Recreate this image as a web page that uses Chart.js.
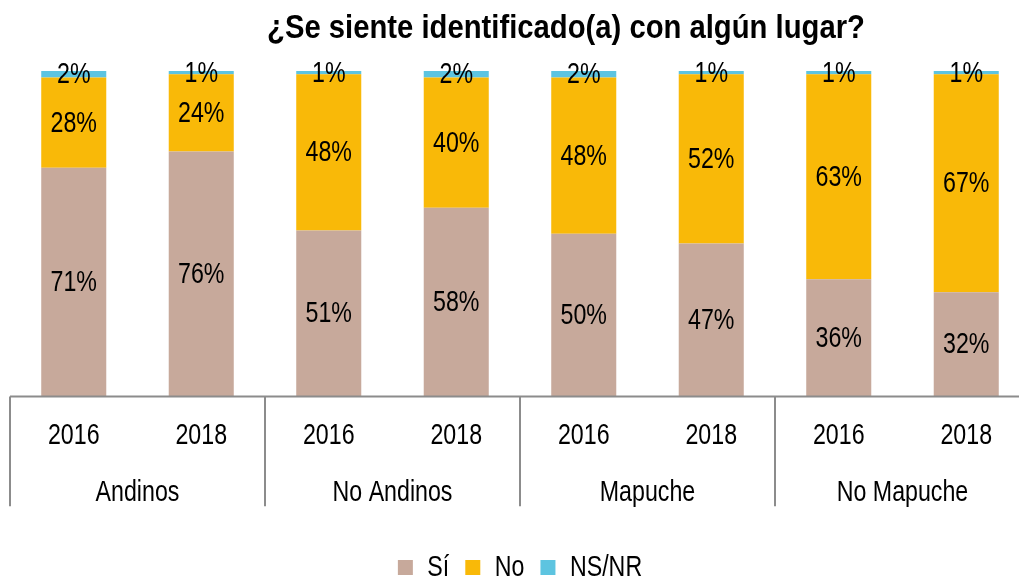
<!DOCTYPE html>
<html>
<head>
<meta charset="utf-8">
<script src="https://cdn.jsdelivr.net/npm/chart.js@4/dist/chart.umd.min.js"></script>
<style>
  html, body { margin: 0; padding: 0; background: #fff; overflow: hidden; }
  #wrap { position: relative; width: 1019px; height: 579px; overflow: hidden; }
  #grafico { position: absolute; left: 0; top: 0; }
  #titulo {
    position: absolute; top: 7px; left: 566px; transform: translateX(-50%) scaleX(0.886);
    white-space: nowrap; font-family: 'Liberation Sans', Arial, sans-serif;
    font-weight: bold; font-size: 33px; color: #000; line-height: 40px; z-index: 2;
  }
</style>
</head>
<body>
<div id="wrap">
  <div id="titulo">¿Se siente identificado(a) con algún lugar?</div>
  <canvas id="grafico" width="1030" height="592"></canvas>
</div>
<script>
// datos
const anios = ['2016', '2018', '2016', '2018', '2016', '2018', '2016', '2018'];
const grupos = ['Andinos', 'No Andinos', 'Mapuche', 'No Mapuche'];
const si   = [71, 76, 51, 58, 50, 47, 36, 32];
const no   = [28, 24, 48, 40, 48, 52, 63, 67];
const nsnr = [2, 1, 1, 2, 2, 1, 1, 1];

const FUENTE = "'Liberation Sans', Arial, sans-serif";
const ESTRECHO = 0.8; // simula Arial Narrow (no hay fuente estrecha instalada)

// 100% apilado: cada barra se normaliza a su total
const totales = si.map((v, i) => v + no[i] + nsnr[i]);
const pct = arr => arr.map((v, i) => v / totales[i] * 100);

// texto comprimido horizontalmente en todo el canvas
const estrecho = {
  id: 'estrecho',
  beforeInit(chart) {
    const ctx = chart.ctx;
    const fill = ctx.fillText.bind(ctx);
    const measure = ctx.measureText.bind(ctx);
    ctx.fillText = function (t, x, y, w) {
      ctx.save();
      ctx.translate(x, y);
      ctx.scale(ESTRECHO, 1);
      fill(t, 0, 0, w);
      ctx.restore();
    };
    ctx.measureText = function (t) {
      const m = measure(t);
      return { width: m.width * ESTRECHO,
               actualBoundingBoxAscent: m.actualBoundingBoxAscent,
               actualBoundingBoxDescent: m.actualBoundingBoxDescent };
    };
  }
};

// etiquetas de porcentaje en el centro de cada segmento
const etiquetas = {
  id: 'etiquetas',
  afterDatasetsDraw(chart) {
    const ctx = chart.ctx;
    ctx.save();
    ctx.font = '29px ' + FUENTE;
    ctx.fillStyle = '#000';
    ctx.textAlign = 'center';
    ctx.textBaseline = 'middle';
    chart.data.datasets.forEach((ds, di) => {
      chart.getDatasetMeta(di).data.forEach((bar, i) => {
        const p = bar.getProps(['x', 'y', 'base'], true);
        ctx.fillText(ds.valores[i] + '%', p.x, (p.y + p.base) / 2 + 1);
      });
    });
    ctx.restore();
  }
};

// línea base y separadores de grupos
const separadores = {
  id: 'separadores',
  afterDraw(chart) {
    const ctx = chart.ctx;
    const x = chart.scales.x;
    const x2 = chart.scales.x2;
    const y0 = chart.chartArea.bottom;
    ctx.save();
    ctx.strokeStyle = '#8c8c8c';
    ctx.lineWidth = 2;
    ctx.beginPath();
    ctx.moveTo(chart.chartArea.left, y0);
    ctx.lineTo(chart.width, y0);
    const xs = [chart.chartArea.left];
    for (let i = 1; i < grupos.length; i++) {
      xs.push((x.getPixelForValue(i * 2 - 1) + x.getPixelForValue(i * 2)) / 2);
    }
    xs.forEach(px => {
      ctx.moveTo(px, y0);
      ctx.lineTo(px, x2.top + 31);
    });
    ctx.stroke();
    ctx.restore();
  }
};

new Chart(document.getElementById('grafico'), {
  type: 'bar',
  data: {
    labels: anios,
    datasets: [
      { label: 'Sí', data: pct(si), valores: si, backgroundColor: '#C7A99B' },
      { label: 'No', data: pct(no), valores: no, backgroundColor: '#F9B908' },
      { label: 'NS/NR', data: pct(nsnr), valores: nsnr, backgroundColor: '#5DC4E0' }
    ]
  },
  options: {
    responsive: false,
    animation: false,
    layout: { padding: { top: 71, left: 10, right: 0, bottom: 0 } },
    datasets: { bar: { categoryPercentage: 1, barPercentage: 0.51 } },
    plugins: {
      title: { display: false },
      tooltip: { enabled: false },
      legend: {
        position: 'bottom',
        fullSize: false,
        labels: {
          boxWidth: 15,
          boxHeight: 15,
          padding: 16,
          color: '#000',
          font: { family: FUENTE, size: 29 }
        }
      }
    },
    scales: {
      x: {
        stacked: true,
        grid: { display: false, drawTicks: false },
        border: { display: false },
        ticks: {
          color: '#000', padding: 22, autoSkip: false, maxRotation: 0,
          font: { family: FUENTE, size: 29 }
        }
      },
      x2: {
        type: 'category',
        labels: grupos,
        position: 'bottom',
        offset: true,
        grid: { display: false, drawTicks: false },
        border: { display: false },
        ticks: {
          color: '#000', padding: 0, autoSkip: false, maxRotation: 0,
          font: { family: FUENTE, size: 29 }
        },
        afterFit(scale) { scale.height += 27; }
      },
      y: {
        stacked: true,
        display: false,
        min: 0,
        max: 100
      }
    }
  },
  plugins: [estrecho, etiquetas, separadores]
});
</script>
</body>
</html>
